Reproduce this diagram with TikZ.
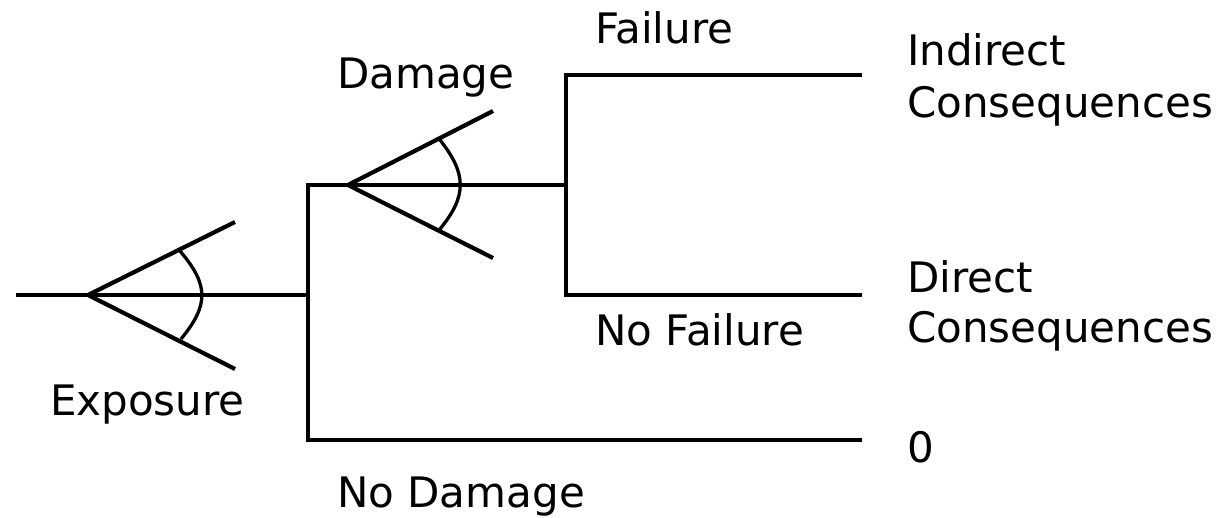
\documentclass[tikz,border=0pt]{standalone}
\usepackage{fontspec}
\setmainfont{DejaVu Sans}
\begin{document}
\begin{tikzpicture}[x=1pt,y=-1pt,
  branch/.style={line width=4.2pt},
  thin branch/.style={line width=3.6pt},
  arcline/.style={line width=3.3pt},
  lbl/.style={anchor=base west,inner sep=0pt,font=\fontsize{42}{50}\selectfont}]
\useasboundingbox (0,0) rectangle (1218,517);
% junction coordinates
\coordinate (s) at (16,295);
\coordinate (a1) at (88,295);
\coordinate (j1) at (308,295);
\coordinate (j1t) at (308,185);
\coordinate (j1b) at (308,440);
\coordinate (a2) at (348,185);
\coordinate (j2) at (566,185);
\coordinate (j2t) at (566,75);
\coordinate (j2b) at (566,295);
\coordinate (m) at (566,440);
\coordinate (e1) at (862,75);
\coordinate (e2) at (862,295);
\coordinate (e3) at (862,440);
\coordinate (w1u) at (235,222);
\coordinate (w1d) at (235,369);
\coordinate (w2u) at (493,111);
\coordinate (w2d) at (493,258);
% branches
\draw[branch] (s) -- (j1);
\draw[branch] (j2) -- (a2) -- (j1t) -- (j1b) -- (m);
\draw[thin branch] (m) -- (e3);
\draw[branch] (e1) -- (j2t) -- (j2b) -- (e2);
% wedges
\draw[branch] (w1u) -- (a1) -- (w1d);
\draw[branch] (w2u) -- (a2) -- (w2d);
\draw[arcline] (180,251) .. controls (209,285) and (209,305) .. (181,339);
\draw[arcline] (440,140) .. controls (467,174) and (467,196) .. (440,229);
% labels
\node[lbl] (failure) at (595,43) {Failure};
\node[lbl] (damage) at (337,88) {Damage};
\node[lbl] (ind1) at (907,65) {Indirect};
\node[lbl] (ind2) at (907,117) {Consequences};
\node[lbl] (dir1) at (907,292) {Direct};
\node[lbl] (dir2) at (907,342) {Consequences};
\node[lbl] (zero) at (907,462) {0};
\node[lbl] (nofail) at (595,345) {No Failure};
\node[lbl] (exposure) at (50,415) {Exposure};
\node[lbl] (nodamage) at (337,507) {No Damage};
\end{tikzpicture}
\end{document}
